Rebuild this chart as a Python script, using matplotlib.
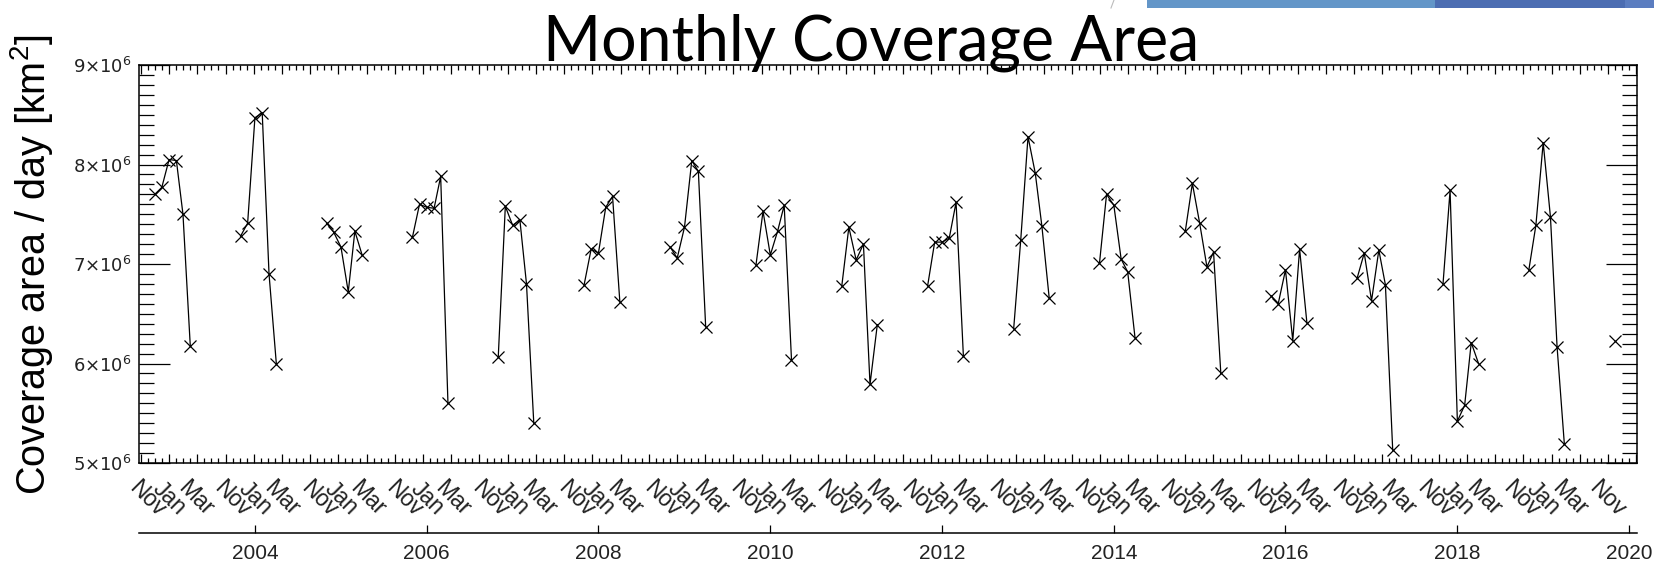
import datetime as dt
import numpy as np
import matplotlib
matplotlib.use("Agg")
import matplotlib.pyplot as plt
import matplotlib.dates as mdates
from matplotlib.patches import Rectangle
from matplotlib.lines import Line2D
from matplotlib.ticker import FixedLocator, MultipleLocator, NullFormatter

plt.rcParams['mathtext.default'] = 'regular'

# season start years (each season runs Nov -> Apr)
season_years = list(range(2002, 2020))
season_months = [(0, 11), (0, 12), (1, 1), (1, 2), (1, 3), (1, 4)]

# monthly coverage area per day, in 1e6 km^2
coverage = [
    [7.70, 7.77, 8.05, 8.04, 7.50, 6.18],
    [7.28, 7.41, 8.47, 8.52, 6.90, 6.00],
    [7.41, 7.32, 7.17, 6.72, 7.33, 7.09],
    [7.27, 7.60, 7.57, 7.56, 7.88, 5.60],
    [6.07, 7.58, 7.39, 7.44, 6.80, 5.40],
    [6.79, 7.15, 7.11, 7.57, 7.68, 6.62],
    [7.17, 7.06, 7.37, 8.04, 7.93, 6.37],
    [6.99, 7.53, 7.09, 7.33, 7.59, 6.04],
    [6.78, 7.37, 7.04, 7.20, 5.79, 6.39],
    [6.78, 7.22, 7.22, 7.26, 7.62, 6.08],
    [6.35, 7.24, 8.28, 7.91, 7.38, 6.66],
    [7.01, 7.70, 7.59, 7.05, 6.92, 6.26],
    [7.33, 7.81, 7.41, 6.97, 7.12, 5.90],
    [6.68, 6.60, 6.94, 6.23, 7.15, 6.41],
    [6.86, 7.11, 6.63, 7.14, 6.79, 5.13],
    [6.80, 7.74, 5.42, 5.58, 6.21, 6.00],
    [6.94, 7.39, 8.22, 7.47, 6.17, 5.19],
    [6.23],
]

# month tick names: (days around Jan 1 of the winter, name, index of that month in the season)
month_labels = [(-95, 'Nov', 0), (0, 'Jan', 2), (112, 'Mar', 4)]
year_ticks = list(range(2004, 2021, 2))
y_ticks = [5, 6, 7, 8, 9]

fig = plt.figure(figsize=(16.54, 5.67), dpi=100)
ax = fig.add_axes([139 / 1654, 1 - 463 / 567, 1498 / 1654, 398 / 567])

for yr, vals in zip(season_years, coverage):
    dates = [dt.datetime(yr + dy, m, 1) for dy, m in season_months[:len(vals)]]
    ax.plot(dates, np.array(vals) * 1e6, color='black', lw=0.9,
            marker='x', ms=8, mew=0.9)

xmin = mdates.date2num(dt.datetime(2002, 8, 26))
xmax = mdates.date2num(dt.datetime(2020, 2, 4))
ax.set_xlim(xmin, xmax)
ax.set_ylim(5e6, 9e6)

first_major = mdates.date2num(dt.datetime(2002, 9, 3))
ax.xaxis.set_major_locator(FixedLocator(np.arange(first_major, xmax, 120)))
ax.xaxis.set_minor_locator(FixedLocator(np.arange(first_major - 30, xmax, 30)))
ax.xaxis.set_major_formatter(NullFormatter())
ax.set_yticks([v * 1e6 for v in y_ticks])
ax.set_yticklabels([r'$%d{\times}10^{6}$' % v for v in y_ticks])
ax.yaxis.set_minor_locator(MultipleLocator(1e5))

ax.tick_params(axis='x', which='major', direction='in', top=True, bottom=True, length=6.5, width=0.9)
ax.tick_params(axis='x', which='minor', direction='in', top=True, bottom=True, length=3.6, width=0.9)
ax.tick_params(axis='y', which='major', direction='in', left=True, right=True, length=22, width=0.9,
               labelsize=13, labelcolor='#222222', pad=5)
ax.tick_params(axis='y', which='minor', direction='in', left=True, right=True, length=11, width=0.9)
for sp in ax.spines.values():
    sp.set_linewidth(1.1)

for yr, vals in zip(season_years, coverage):
    jan = mdates.date2num(dt.datetime(yr + 1, 1, 1))
    for off, name, idx in month_labels:
        if idx >= len(vals):
            continue
        ax.text(jan + off, -0.09, name, transform=ax.get_xaxis_transform(), rotation=-45,
                ha='center', va='center', fontsize=16.5, family='Liberation Sans', color='#222222')

# second time axis with years
ax2 = fig.add_axes([139 / 1654, 1 - 533 / 567, 1498 / 1654, 0.001])
ax2.set_xlim(xmin, xmax)
ax2.set_yticks([])
for s in ['top', 'left', 'right']:
    ax2.spines[s].set_visible(False)
ax2.spines['bottom'].set_linewidth(1.1)
ax2.set_xticks([mdates.date2num(dt.datetime(y, 1, 1)) for y in year_ticks])
ax2.set_xticklabels([str(y) for y in year_ticks], family='Liberation Sans', fontsize=15)
ax2.tick_params(axis='x', direction='in', length=6, width=0.9,
                labelcolor='#222222', pad=8)
ax2.patch.set_visible(False)

fig.text(871 / 1654, 1 - 61 / 567, 'Monthly Coverage Area', ha='center', va='baseline',
         fontsize=45, family='Lato', color='black')
fig.text(32 / 1654, 0.534, 'Coverage area / day [km$^2$]', rotation=90, ha='center', va='center',
         fontsize=28.5, family='Liberation Sans', color='black')

# slide decoration at top right
fig.add_artist(Rectangle((1147 / 1654, 1 - 8 / 567), 290 / 1654, 8 / 567,
                         transform=fig.transFigure, color='#6396c8', lw=0))
fig.add_artist(Rectangle((1435 / 1654, 1 - 8 / 567), 190 / 1654, 8 / 567,
                         transform=fig.transFigure, color='#4c6db2', lw=0))
fig.add_artist(Rectangle((1625 / 1654, 1 - 8 / 567), 29 / 1654, 8 / 567,
                         transform=fig.transFigure, color='#5b7dc0', lw=0))
fig.add_artist(Line2D([1111 / 1654, 1114 / 1654], [1 - 8 / 567, 1.0],
                      transform=fig.transFigure, color='#bbbbbb', lw=0.8))

fig.savefig('out.png', dpi=100)
